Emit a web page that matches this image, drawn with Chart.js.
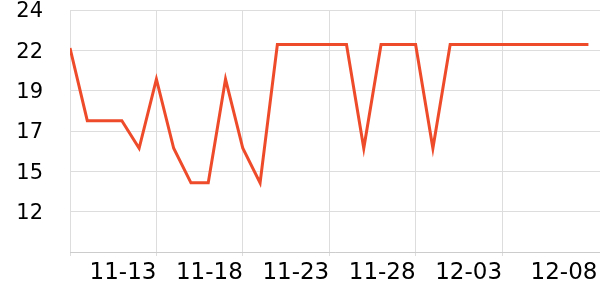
<!DOCTYPE html>
<html>
<head>
<meta charset="utf-8">
<script src="https://cdn.jsdelivr.net/npm/chart.js@4"></script>
<style>
  html, body { margin: 0; padding: 0; background: #fff; }
  #wrap { width: 600px; height: 300px; }
</style>
</head>
<body>
<div id="wrap"><canvas id="lineChart" width="600" height="300"></canvas></div>
<script>
// Tage 11-08 bis 12-08
const dates = ['11-08','11-09','11-10','11-11','11-12','11-13','11-14','11-15','11-16','11-17',
               '11-18','11-19','11-20','11-21','11-22','11-23','11-24','11-25','11-26','11-27',
               '11-28','11-29','11-30','12-01','12-02','12-03','12-04','12-05','12-06','12-07','12-08'];
const values = [21.8, 17.6, 17.6, 17.6, 16, 20, 16, 14, 14, 20,
                16, 14, 22, 22, 22, 22, 22, 16, 22, 22,
                22, 16, 22, 22, 22, 22, 22, 22, 22, 22, 22];
const yMin = 10;
const yMax = 24;
const labelEvery = 5;

const points = values.map((v, i) => ({ x: i, y: v }));
const lastIdx = dates.length - 1;

window.onload = function() {
    const ctx = document.getElementById('lineChart').getContext('2d');
    new Chart(ctx, {
        type: 'line',
        data: {
            datasets: [{
                data: points,
                borderColor: '#ee4b2b',
                borderWidth: 3,
                pointRadius: 0,
                tension: 0,
                fill: false
            }]
        },
        options: {
            responsive: false,
            animation: false,
            layout: { padding: { top: 10, right: 0, left: 0, bottom: 0 } },
            plugins: { legend: { display: false }, tooltip: { enabled: false } },
            scales: {
                x: {
                    type: 'linear',
                    min: 0,
                    max: 30.67,
                    afterBuildTicks: (scale) => {
                        const t = [];
                        for (let i = 0; i <= lastIdx; i += labelEvery) t.push({ value: i });
                        // letztes Label etwas nach rechts, wie im Original
                        t[t.length - 1].value = lastIdx + 0.52;
                        scale.ticks = t;
                    },
                    afterFit: (scale) => {
                        scale.height = 48;
                        scale.paddingLeft = 0;
                        scale.paddingRight = 0;
                    },
                    ticks: {
                        autoSkip: false,
                        maxRotation: 0,
                        align: 'end',
                        padding: 3,
                        color: '#000',
                        font: { family: 'DejaVu Sans', size: 23 },
                        callback: (v) => v === 0 ? '' : dates[Math.floor(v)]
                    },
                    grid: {
                        color: (c) => c.tick && c.tick.value > lastIdx ? 'rgba(0,0,0,0)' : '#dddddd',
                        tickLength: 4
                    },
                    border: { color: '#cccccc' }
                },
                y: {
                    min: yMin,
                    max: yMax,
                    afterFit: (scale) => {
                        scale.width = 70;
                        scale.paddingTop = 0;
                        scale.paddingBottom = 0;
                    },
                    afterBuildTicks: (scale) => {
                        const t = [];
                        for (let k = 0; k <= 6; k++) t.push({ value: yMin + k * (yMax - yMin) / 6 });
                        scale.ticks = t;
                    },
                    ticks: {
                        padding: 27,
                        labelOffset: 2,
                        color: '#000',
                        font: { family: 'DejaVu Sans', size: 21 },
                        callback: (v) => v === yMin ? '' : Math.round(v)
                    },
                    grid: { color: '#dddddd', drawTicks: false },
                    border: { display: false }
                }
            }
        }
    });
};
</script>
</body>
</html>
